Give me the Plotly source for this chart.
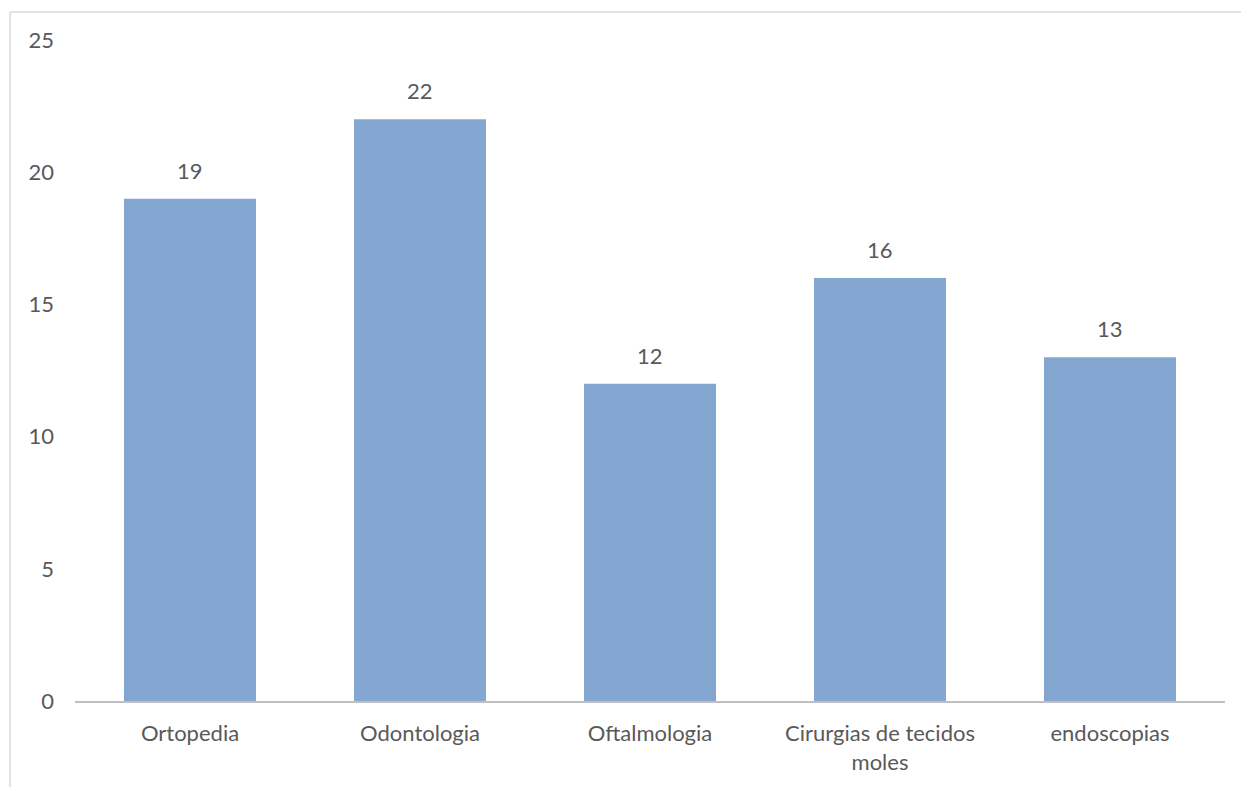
import plotly.graph_objects as go

categories = ["Ortopedia", "Odontologia", "Oftalmologia", "Cirurgias de tecidos<br>moles", "endoscopias"]
values = [19, 22, 12, 16, 13]
y_ticks = [0, 5, 10, 15, 20, 25]

font_family = "Lato, Open Sans, sans-serif"
text_color = "#595959"
fs = 22

fig = go.Figure()
fig.add_trace(go.Bar(
    x=categories, y=values,
    marker=dict(color="#84A7D1", line=dict(width=0)),
    hoverinfo="x+y",
))

for c, v in zip(categories, values):
    fig.add_annotation(x=c, y=v, text=str(v), showarrow=False,
                       yanchor="bottom", yshift=13,
                       font=dict(family=font_family, size=fs, color=text_color))

fig.update_layout(
    width=1241, height=787,
    margin=dict(l=75, r=16, t=40, b=84),
    paper_bgcolor="white", plot_bgcolor="white",
    bargap=0.426,
    showlegend=False,
    font=dict(family=font_family, size=fs, color=text_color),
    xaxis=dict(showline=True, linecolor="#BFBFBF", linewidth=2,
               showgrid=False, zeroline=False, ticks="",
               tickfont=dict(size=fs, color=text_color), ticklabelstandoff=12),
    yaxis=dict(range=[0, 25], tickvals=y_ticks, showgrid=False, zeroline=False,
               showline=False, ticks="", ticklabelstandoff=20,
               tickfont=dict(size=fs, color=text_color)),
    shapes=[
        dict(type="line", xref="paper", yref="paper", x0=-0.0565, x1=1.02,
             y0=1.0422, y1=1.0422, line=dict(color="#D9D9D9", width=1.5)),
        dict(type="line", xref="paper", yref="paper", x0=-0.0565, x1=-0.0565,
             y0=1.0422, y1=-0.2, line=dict(color="#D9D9D9", width=1.5)),
    ],
)

fig.write_html("out.html")
